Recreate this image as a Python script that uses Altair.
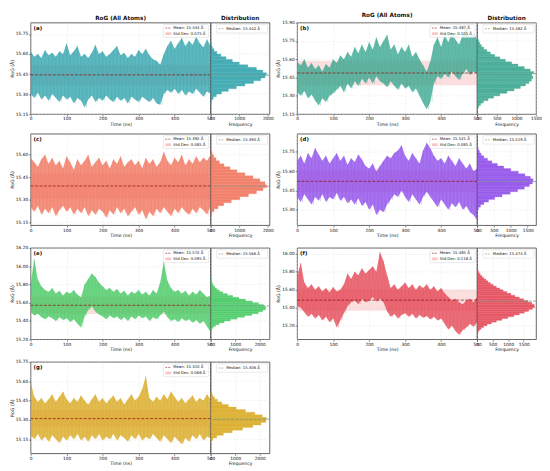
import altair as alt
import pandas as pd

FONT = "DejaVu Sans"
TIME = list(range(0, 501, 10))
TIME_TICKS = [0, 100, 200, 300, 400, 500]
BIN_W = 0.02

# ---------------- (a) ----------------
A_HI = [15.62, 15.58, 15.60, 15.57, 15.63, 15.59, 15.61, 15.58, 15.62, 15.60,
        15.68, 15.59, 15.62, 15.66, 15.58, 15.60, 15.57, 15.61, 15.67, 15.60,
        15.62, 15.58, 15.60, 15.63, 15.66, 15.59, 15.61, 15.57, 15.60, 15.58,
        15.63, 15.60, 15.64, 15.59, 15.56, 15.55, 15.52, 15.60, 15.66, 15.70,
        15.64, 15.68, 15.72, 15.66, 15.70, 15.67, 15.73, 15.68, 15.65, 15.71,
        15.66]
A_LO = [15.30, 15.27, 15.31, 15.26, 15.29, 15.25, 15.30, 15.27, 15.24, 15.29,
        15.26, 15.28, 15.23, 15.27, 15.25, 15.20, 15.26, 15.29, 15.24, 15.27,
        15.25, 15.29, 15.26, 15.24, 15.28, 15.25, 15.27, 15.23, 15.28, 15.26,
        15.24, 15.28, 15.26, 15.24, 15.27, 15.23, 15.22, 15.30, 15.33, 15.31,
        15.34, 15.30, 15.33, 15.29, 15.32, 15.30, 15.34, 15.31, 15.28, 15.32,
        15.30]
A_HIST_START = 15.22
A_HIST = [10, 30, 90, 200, 380, 620, 900, 1200, 1500, 1750, 1900, 1950, 1820,
          1600, 1300, 1000, 760, 540, 360, 220, 120, 60, 25, 10]

# ---------------- (b) ----------------
B_HI = [15.58, 15.55, 15.60, 15.53, 15.57, 15.52, 15.55, 15.50, 15.56, 15.53,
        15.60, 15.57, 15.63, 15.60, 15.66, 15.62, 15.70, 15.65, 15.72, 15.66,
        15.74, 15.68, 15.78, 15.70, 15.75, 15.80, 15.68, 15.72, 15.64, 15.70,
        15.66, 15.72, 15.62, 15.66, 15.60, 15.55, 15.50, 15.58, 15.72, 15.78,
        15.70, 15.80, 15.74, 15.82, 15.76, 15.72, 15.80, 15.86, 15.78, 15.82,
        15.76]
B_LO = [15.33, 15.30, 15.34, 15.28, 15.31, 15.26, 15.22, 15.28, 15.25, 15.30,
        15.32, 15.35, 15.38, 15.33, 15.40, 15.36, 15.42, 15.38, 15.44, 15.40,
        15.45, 15.40, 15.46, 15.42, 15.40, 15.37, 15.42, 15.38, 15.35, 15.40,
        15.36, 15.38, 15.33, 15.36, 15.30, 15.24, 15.19, 15.25, 15.40, 15.46,
        15.44, 15.48, 15.45, 15.50, 15.46, 15.43, 15.48, 15.52, 15.47, 15.50,
        15.48]
B_HIST_START = 15.18
B_HIST = [10, 40, 90, 160, 280, 420, 580, 760, 940, 1100, 1230, 1320, 1380,
          1420, 1390, 1440, 1350, 1200, 1040, 880, 720, 580, 450, 340, 250,
          170, 110, 70, 40, 20, 10, 5]

# ---------------- (c) ----------------
C_HI = [15.58, 15.55, 15.52, 15.57, 15.60, 15.54, 15.58, 15.53, 15.56, 15.51,
        15.59, 15.55, 15.50, 15.57, 15.53, 15.56, 15.60, 15.52, 15.55, 15.58,
        15.53, 15.56, 15.51, 15.57, 15.54, 15.59, 15.52, 15.55, 15.57, 15.53,
        15.56, 15.51, 15.58, 15.54, 15.57, 15.52, 15.55, 15.62, 15.56, 15.53,
        15.58, 15.55, 15.60, 15.53, 15.57, 15.54, 15.59, 15.55, 15.58, 15.56,
        15.60]
C_LO = [15.25, 15.22, 15.26, 15.20, 15.24, 15.21, 15.25, 15.19, 15.23, 15.26,
        15.22, 15.25, 15.20, 15.24, 15.21, 15.25, 15.19, 15.23, 15.20, 15.24,
        15.22, 15.18, 15.23, 15.20, 15.25, 15.21, 15.24, 15.19, 15.22, 15.25,
        15.20, 15.23, 15.17, 15.22, 15.19, 15.24, 15.21, 15.25, 15.22, 15.19,
        15.24, 15.21, 15.25, 15.22, 15.20, 15.24, 15.21, 15.25, 15.23, 15.20,
        15.26]
C_HIST_START = 15.18
C_HIST = [10, 40, 120, 260, 460, 720, 1020, 1320, 1600, 1830, 1960, 1900, 1720,
          1480, 1200, 920, 680, 470, 310, 190, 110, 55, 20]

# ---------------- (d) ----------------
D_HI = [15.68, 15.72, 15.66, 15.74, 15.70, 15.78, 15.73, 15.68, 15.72, 15.66,
        15.70, 15.74, 15.68, 15.72, 15.65, 15.70, 15.67, 15.73, 15.69, 15.64,
        15.62, 15.66, 15.60, 15.64, 15.68, 15.72, 15.70, 15.74, 15.76, 15.80,
        15.72, 15.68, 15.74, 15.70, 15.66, 15.76, 15.82, 15.78, 15.72, 15.68,
        15.70, 15.66, 15.72, 15.68, 15.64, 15.70, 15.66, 15.62, 15.66, 15.60,
        15.62]
D_LO = [15.40, 15.36, 15.42, 15.38, 15.34, 15.40, 15.37, 15.42, 15.36, 15.40,
        15.38, 15.43, 15.37, 15.40, 15.35, 15.38, 15.34, 15.39, 15.33, 15.36,
        15.30, 15.34, 15.26, 15.30, 15.28, 15.34, 15.38, 15.42, 15.40, 15.45,
        15.40, 15.36, 15.42, 15.38, 15.34, 15.40, 15.44, 15.40, 15.36, 15.32,
        15.38, 15.34, 15.30, 15.35, 15.32, 15.36, 15.30, 15.33, 15.28, 15.26,
        15.22]
D_HIST_START = 15.28
D_HIST = [10, 40, 100, 200, 340, 520, 740, 980, 1200, 1400, 1550, 1640, 1660,
          1580, 1420, 1220, 1000, 790, 600, 440, 310, 200, 120, 70, 35, 15]

# ---------------- (e) ----------------
E_HI = [15.80, 16.08, 15.85, 15.78, 15.74, 15.72, 15.76, 15.70, 15.73, 15.68,
        15.72, 15.70, 15.74, 15.69, 15.66, 15.80, 15.86, 15.92, 15.88, 15.82,
        15.78, 15.74, 15.76, 15.72, 15.75, 15.70, 15.73, 15.68, 15.72, 15.70,
        15.74, 15.69, 15.72, 15.68, 15.74, 15.70, 15.82, 16.05, 15.84, 15.76,
        15.72, 15.74, 15.70, 15.73, 15.68, 15.72, 15.69, 15.74, 15.70, 15.66,
        15.68]
E_LO = [15.50, 15.46, 15.48, 15.44, 15.42, 15.45, 15.43, 15.40, 15.44, 15.41,
        15.43, 15.39, 15.42, 15.37, 15.33, 15.45, 15.52, 15.56, 15.50, 15.47,
        15.45, 15.42, 15.46, 15.43, 15.45, 15.41, 15.44, 15.40, 15.45, 15.42,
        15.46, 15.43, 15.45, 15.40, 15.44, 15.42, 15.46, 15.50, 15.44, 15.40,
        15.42, 15.39, 15.43, 15.40, 15.42, 15.38, 15.41, 15.37, 15.40, 15.34,
        15.28]
E_HIST_START = 15.28
E_HIST = [10, 40, 100, 200, 350, 550, 800, 1080, 1380, 1680, 1940, 2120, 2230,
          2250, 2150, 1950, 1700, 1420, 1150, 900, 680, 500, 360, 250, 170,
          110, 70, 45, 25, 12, 5]

# ---------------- (f) ----------------
F_HI = [15.75, 15.90, 15.68, 15.62, 15.66, 15.60, 15.64, 15.58, 15.62, 15.57,
        15.63, 15.58, 15.60, 15.66, 15.78, 15.72, 15.80, 15.76, 15.84, 15.78,
        15.82, 15.86, 15.80, 16.02, 15.92, 15.76, 15.62, 15.66, 15.60, 15.64,
        15.68, 15.62, 15.66, 15.60, 15.65, 15.62, 15.66, 15.60, 15.64, 15.58,
        15.62, 15.56, 15.52, 15.48, 15.50, 15.46, 15.44, 15.48, 15.50, 15.46,
        15.52]
F_LO = [15.42, 15.40, 15.35, 15.30, 15.33, 15.28, 15.32, 15.26, 15.30, 15.24,
        15.28, 15.18, 15.26, 15.34, 15.42, 15.46, 15.48, 15.44, 15.50, 15.46,
        15.48, 15.52, 15.47, 15.50, 15.46, 15.36, 15.30, 15.33, 15.28, 15.32,
        15.34, 15.30, 15.33, 15.28, 15.32, 15.29, 15.31, 15.27, 15.30, 15.26,
        15.28, 15.22, 15.16, 15.20, 15.14, 15.10, 15.15, 15.18, 15.22, 15.19,
        15.24]
F_HIST_START = 15.10
F_HIST = [10, 30, 70, 130, 210, 320, 460, 620, 800, 990, 1180, 1360, 1520,
          1660, 1780, 1850, 1840, 1760, 1640, 1500, 1360, 1220, 1090, 960, 840,
          730, 620, 520, 430, 350, 280, 210, 150, 100, 60, 35, 15, 5]

# ---------------- (g) ----------------
G_HI = [15.60, 15.48, 15.44, 15.47, 15.43, 15.46, 15.50, 15.44, 15.48, 15.52,
        15.46, 15.43, 15.47, 15.44, 15.49, 15.45, 15.42, 15.46, 15.50, 15.44,
        15.47, 15.43, 15.46, 15.49, 15.44, 15.47, 15.42, 15.46, 15.50, 15.45,
        15.48, 15.54, 15.64, 15.47, 15.44, 15.48, 15.45, 15.50, 15.46, 15.52,
        15.48, 15.44, 15.47, 15.43, 15.46, 15.49, 15.44, 15.47, 15.45, 15.50,
        15.46]
G_LO = [15.18, 15.15, 15.19, 15.14, 15.17, 15.13, 15.18, 15.15, 15.12, 15.17,
        15.14, 15.18, 15.15, 15.19, 15.14, 15.17, 15.13, 15.18, 15.15, 15.19,
        15.14, 15.17, 15.15, 15.19, 15.14, 15.18, 15.16, 15.13, 15.18, 15.15,
        15.19, 15.14, 15.17, 15.15, 15.19, 15.16, 15.13, 15.18, 15.15, 15.12,
        15.17, 15.14, 15.11, 15.16, 15.13, 15.18, 15.15, 15.19, 15.14, 15.17,
        15.16]
G_HIST_START = 15.12
G_HIST = [20, 90, 250, 520, 880, 1300, 1720, 2050, 2250, 2270, 2100, 1800,
          1420, 1040, 720, 460, 280, 160, 80, 35]

LABELS = ["(a)", "(b)", "(c)", "(d)", "(e)", "(f)", "(g)"]
COLORS = ["#2aa0aa", "#32a48c", "#f06e55", "#8a44ea", "#3fc75c", "#e3404f", "#d8a617"]
MEANS = [15.444, 15.487, 15.392, 15.521, 15.572, 15.485, 15.310]
STDS = [0.075, 0.101, 0.085, 0.085, 0.095, 0.118, 0.068]
MEDIANS = [15.442, 15.482, 15.390, 15.519, 15.566, 15.474, 15.306]
Y_DOMAINS = [[15.15, 15.835], [15.15, 15.90], [15.13, 15.74], [15.18, 15.89],
             [15.20, 16.20], [15.05, 16.065], [15.04, 15.75]]
Y_TICKS = [[15.15, 15.30, 15.45, 15.60, 15.75],
           [15.15, 15.30, 15.45, 15.60, 15.75, 15.90],
           [15.15, 15.30, 15.45, 15.60],
           [15.30, 15.45, 15.60, 15.75],
           [15.20, 15.40, 15.60, 15.80, 16.00, 16.20],
           [15.20, 15.40, 15.60, 15.80, 16.00],
           [15.15, 15.30, 15.45, 15.60, 15.75]]
HIST_MAX = [2060, 1500, 2060, 1750, 2400, 1900, 2400]
HIST_TICKS = [[0, 1000, 2000], [0, 500, 1000, 1500], [0, 1000, 2000],
              [0, 500, 1000, 1500], [0, 1000, 2000], [0, 500, 1000, 1500],
              [0, 1000, 2000]]
HIS = [A_HI, B_HI, C_HI, D_HI, E_HI, F_HI, G_HI]
LOS = [A_LO, B_LO, C_LO, D_LO, E_LO, F_LO, G_LO]
HIST_STARTS = [A_HIST_START, B_HIST_START, C_HIST_START, D_HIST_START,
               E_HIST_START, F_HIST_START, G_HIST_START]
HISTS = [A_HIST, B_HIST, C_HIST, D_HIST, E_HIST, F_HIST, G_HIST]

TS_W, HIST_W, H = 183, 60, 93
MEAN_COLOR = "#8b1010"
BAND_COLOR = "#f4a0a0"
MEDIAN_COLOR = "#6f9a8a"
GRID_COLOR = "#dddddd"
ONE = pd.DataFrame({"k": [0]})


def box(x1, x2, y1, y2):
    return alt.Chart(ONE).mark_rect(fill="white", fillOpacity=0.85, stroke="#cccccc",
                                    strokeWidth=0.4, cornerRadius=1).encode(
        x=alt.value(x1), x2=alt.value(x2), y=alt.value(y1), y2=alt.value(y2))


def txt(s, x, y, size=4.0, weight="normal"):
    return alt.Chart(ONE).mark_text(text=s, align="left", baseline="middle",
                                    fontSize=size, font=FONT, fontWeight=weight,
                                    color="#111").encode(x=alt.value(x), y=alt.value(y))


def ts_chart(i, titled):
    yscale = alt.Scale(domain=Y_DOMAINS[i], nice=False, zero=False)
    yaxis = alt.Axis(values=Y_TICKS[i], format=".2f", labelFlush=False)
    xscale = alt.Scale(domain=[0, 500], nice=False)
    xaxis = alt.Axis(values=TIME_TICKS, format="d", labelFlush=False)
    df = pd.DataFrame({"t": TIME, "lo": LOS[i], "hi": HIS[i]})
    # zig-zag trace through the read envelope (peak at each sample, trough half-way)
    zt, zv = [], []
    for k in range(len(TIME)):
        zt.append(TIME[k]); zv.append(HIS[i][k])
        if k < len(TIME) - 1:
            zt.append(TIME[k] + 5); zv.append(LOS[i][k])
    zig = pd.DataFrame({"t": zt, "lo": zv})
    band = alt.Chart(pd.DataFrame({"lo": [MEANS[i] - STDS[i]], "hi": [MEANS[i] + STDS[i]]})).mark_rect(
        color=BAND_COLOR, opacity=0.35).encode(
        y=alt.Y("lo:Q", scale=yscale, axis=yaxis, title="RoG (Å)"), y2="hi:Q")
    area = alt.Chart(df).mark_area(color=COLORS[i], opacity=0.75, clip=True).encode(
        x=alt.X("t:Q", scale=xscale, axis=xaxis, title="Time (ns)"),
        y=alt.Y("lo:Q", scale=yscale, axis=yaxis, title="RoG (Å)"), y2="hi:Q")
    line = alt.Chart(zig).mark_line(color=COLORS[i], strokeWidth=0.35, opacity=0.45, clip=True).encode(
        x=alt.X("t:Q", scale=xscale, axis=xaxis, title="Time (ns)"),
        y=alt.Y("lo:Q", scale=yscale, axis=yaxis, title="RoG (Å)"))
    mean = alt.Chart(pd.DataFrame({"lo": [MEANS[i]]})).mark_rule(
        color=MEAN_COLOR, strokeDash=[3, 1.5], strokeWidth=0.8, opacity=0.9).encode(
        y=alt.Y("lo:Q", scale=yscale, axis=yaxis, title="RoG (Å)"))
    x0 = TS_W - 48
    legend = [
        box(x0, TS_W - 2, 2, 15),
        alt.Chart(ONE).mark_rule(color=MEAN_COLOR, strokeDash=[2, 1], strokeWidth=0.6).encode(
            x=alt.value(x0 + 2), x2=alt.value(x0 + 8), y=alt.value(5.5)),
        alt.Chart(ONE).mark_rect(color=BAND_COLOR, opacity=0.6).encode(
            x=alt.value(x0 + 2), x2=alt.value(x0 + 8), y=alt.value(9.8), y2=alt.value(12.6)),
        txt(f"Mean: {MEANS[i]:.3f} Å", x0 + 10, 5.6, 3.9),
        txt(f"Std Dev: {STDS[i]:.3f} Å", x0 + 10, 11.2, 3.9),
    ]
    lab = txt(LABELS[i], 3, 5.5, 5.5, "bold")
    ch = alt.layer(band, area, line, mean, *legend, lab).properties(width=TS_W, height=H)
    if titled:
        ch = ch.properties(title=alt.TitleParams("RoG (All Atoms)", frame="group"))
    return ch


def hist_chart(i, titled):
    yscale = alt.Scale(domain=Y_DOMAINS[i], nice=False, zero=False)
    starts = [round(HIST_STARTS[i] + BIN_W * k, 3) for k in range(len(HISTS[i]))]
    df = pd.DataFrame({"s": starts, "e": [round(s + BIN_W, 3) for s in starts],
                       "zero": [0] * len(starts), "count": HISTS[i]})
    grid = alt.Chart(pd.DataFrame({"s": Y_TICKS[i]})).mark_rule(
        color=GRID_COLOR, strokeDash=[2, 1.5], strokeWidth=0.4).encode(
        y=alt.Y("s:Q", scale=yscale, axis=None))
    bars = alt.Chart(df).mark_rect(color=COLORS[i], opacity=0.85, clip=True,
                                   stroke=COLORS[i], strokeWidth=0.3).encode(
        x=alt.X("zero:Q", scale=alt.Scale(domain=[0, HIST_MAX[i]], nice=False),
                axis=alt.Axis(values=HIST_TICKS[i], format="d", labelFlush=False),
                title="Frequency"),
        x2="count:Q",
        y=alt.Y("s:Q", scale=yscale, axis=None), y2="e:Q")
    med = alt.Chart(pd.DataFrame({"s": [MEDIANS[i]]})).mark_rule(
        color=MEDIAN_COLOR, strokeDash=[3, 1.5], strokeWidth=0.8).encode(
        y=alt.Y("s:Q", scale=yscale, axis=None))
    legend = [
        box(6, HIST_W - 2, 2, 10.5),
        alt.Chart(ONE).mark_rule(color=MEDIAN_COLOR, strokeDash=[2, 1], strokeWidth=0.6).encode(
            x=alt.value(8), x2=alt.value(14), y=alt.value(6.2)),
        txt(f"Median: {MEDIANS[i]:.3f} Å", 16, 6.3, 3.9),
    ]
    ch = alt.layer(grid, bars, med, *legend).properties(width=HIST_W, height=H)
    if titled:
        ch = ch.properties(title=alt.TitleParams("Distribution", frame="group"))
    return ch


def panel(i):
    titled = i < 2
    return alt.hconcat(ts_chart(i, titled), hist_chart(i, titled), spacing=0, bounds="flush")


chart = alt.concat(*[panel(i) for i in range(7)], columns=2,
                   spacing={"row": 6, "column": 0}).properties(
    padding={"left": 0, "top": 0, "right": 0, "bottom": 0}
).configure_view(
    stroke="#222222", strokeWidth=0.7
).configure_axis(
    labelFont=FONT, titleFont=FONT, labelFontSize=4.4, titleFontSize=4.7,
    titleFontWeight="normal", labelColor="#111", titleColor="#111",
    tickSize=2, tickWidth=0.5, tickColor="#222", labelPadding=1, titlePadding=1.2,
    domain=False, gridColor=GRID_COLOR, gridDash=[2, 1.5], gridWidth=0.4
).configure_title(
    font=FONT, fontSize=5.8, fontWeight="bold", offset=1.5, anchor="middle", color="#111"
)

chart.save("out.html", embed_options={"renderer": "svg", "actions": False})
